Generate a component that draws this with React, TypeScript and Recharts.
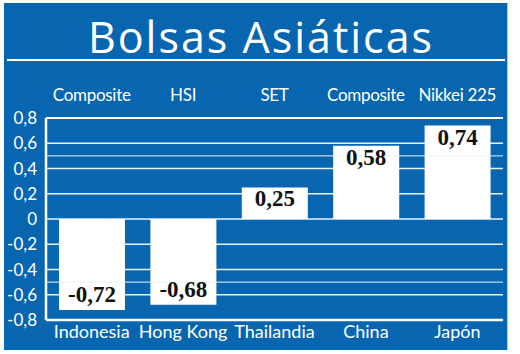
import { BarChart, Bar, XAxis, YAxis, CartesianGrid, ReferenceLine, LabelList } from "recharts";

const countries = ["Indonesia", "Hong Kong", "Thailandia", "China", "Japón"];
const indexNames = ["Composite", "HSI", "SET", "Composite", "Nikkei 225"];
const changes = [-0.72, -0.68, 0.25, 0.58, 0.74];
const yTicks = [-0.8, -0.6, -0.4, -0.2, 0, 0.2, 0.4, 0.6, 0.8];
const extraLines = [0.5, -0.5];

const BLUE = "#0866b1";
const GRID = "#e6f3fb";

const data = countries.map((c, i) => ({ country: c, index: indexNames[i], value: changes[i] }));

const fmt = (v: number) => (v === 0 ? "0" : v.toFixed(2).replace(/0$/, "").replace(".", ","));

const YTick = ({ y, payload }: any) => (
  <text x={37} y={y + 6} textAnchor="end" fill="#fff" fontSize={17} fontFamily="Lato, sans-serif">
    {fmt(payload.value)}
  </text>
);

const BottomTick = ({ x, payload }: any) => (
  <text x={x} y={338} textAnchor="middle" fill="#fff" fontSize={18} fontFamily="Lato, sans-serif">
    {payload.value}
  </text>
);

const TopTick = ({ x, payload }: any) => (
  <text x={x} y={101} textAnchor="middle" fill="#fff" fontSize={17} fontFamily="Lato, sans-serif" letterSpacing={-0.3}>
    {payload.value}
  </text>
);

const ValueLabel = ({ x, y, width, height, value }: any) => {
  const cx = x + width / 2;
  const top = Math.min(y, y + height);
  const bottom = Math.max(y, y + height);
  // positive bars: label under the top edge; negative: above the bottom edge
  const ty = value >= 0 ? top + 19 : bottom - 8;
  return (
    <text x={cx} y={ty} textAnchor="middle" fill="#111" fontSize={23} fontWeight={700} fontFamily="'Liberation Serif', serif">
      {Number(value).toFixed(2).replace(".", ",")}
    </text>
  );
};

export default function App() {
  return (
    <div style={{ position: "absolute", left: 0, top: 0, width: 520, height: 354, background: "#fff" }}>
      <div
        style={{
          position: "absolute",
          left: 4,
          top: 3,
          width: 503,
          height: 347,
          background: BLUE,
          borderRight: "1px solid #9fd0ee",
        }}
      />
      <div
        style={{
          position: "absolute",
          left: 0,
          top: 9,
          width: 522,
          textAlign: "center",
          color: "#fff",
          fontFamily: "'Open Sans', sans-serif",
          fontSize: 43,
          letterSpacing: 2,
          lineHeight: "56px",
        }}
      >
        Bolsas Asiáticas
      </div>
      <div style={{ position: "absolute", left: 7, top: 59, width: 498, height: 2, background: "#fff" }} />
      <div style={{ position: "absolute", left: 0, top: 0 }}>
        <BarChart
          width={520}
          height={354}
          data={data}
          margin={{ top: 78, right: 17, bottom: 0, left: 0 }}
          barSize={66}
        >
          <CartesianGrid horizontal vertical={false} stroke={GRID} strokeWidth={1.5} strokeOpacity={1} />
          {extraLines.map((v) => (
            <ReferenceLine key={v} y={v} stroke={GRID} strokeWidth={1} />
          ))}
          <ReferenceLine y={0.8} stroke="#fff" strokeWidth={2} />
          <XAxis xAxisId="top" orientation="top" dataKey="index" height={40} axisLine={false} tickLine={false} tick={<TopTick />} interval={0} />
          <XAxis dataKey="country" height={34} axisLine={{ stroke: "#fff", strokeWidth: 2.5 }} tickLine={false} tick={<BottomTick />} interval={0} />
          <YAxis
            domain={[-0.8, 0.8]}
            ticks={yTicks}
            width={46}
            axisLine={{ stroke: "#fff", strokeWidth: 2.5 }}
            tickLine={false}
            tick={<YTick />}
          />
          <Bar dataKey="value" fill="#fff" isAnimationActive={false}>
            <LabelList dataKey="value" content={<ValueLabel />} />
          </Bar>
        </BarChart>
      </div>
    </div>
  );
}
